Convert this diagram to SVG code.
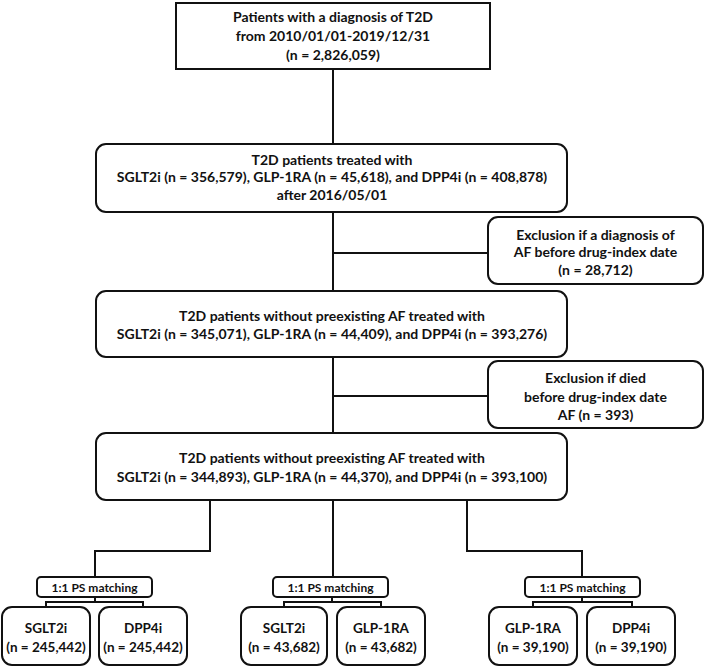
<svg xmlns="http://www.w3.org/2000/svg" width="708" height="668" viewBox="0 0 708 668">
<style>
.box{fill:#fff;stroke:#111;stroke-width:2}
.t{font-family:Lato,"Open Sans","Liberation Sans",sans-serif;font-weight:bold;font-size:14px;fill:#111;text-anchor:middle}
.s{font-size:12px}
.m{font-size:13.5px}
.c{fill:none;stroke:#111;stroke-width:2}
</style>
<rect width="708" height="668" fill="#fff"/>
<g id="connectors">
<path class="c" d="M333 69V144M333 212V290M333 253H488M333 358V433M333 396H488"/>
<path class="c" d="M210 500V551H95V577M333 500V577M467 500V551H582V577"/>
<path class="c" d="M95 597V602M46 607V602H143V607M332 597V602M284 607V602H381V607M582 597V602M533 607V602H632V607"/>
</g>
<g id="n1">
<rect class="box" x="176" y="3" width="314" height="66"/>
<text class="t" x="333" y="22">Patients with a diagnosis of T2D</text>
<text class="t" x="333" y="41">from 2010/01/01-2019/12/31</text>
<text class="t" x="333" y="60">(n = 2,826,059)</text>
</g>
<g id="n2">
<rect class="box" x="96" y="144" width="471" height="68" rx="10"/>
<text class="t" x="332" y="165">T2D patients treated with</text>
<text class="t" x="332" y="182">SGLT2i (n = 356,579), GLP-1RA (n = 45,618), and DPP4i (n = 408,878)</text>
<text class="t" x="332" y="200">after 2016/05/01</text>
</g>
<g id="ex1">
<rect class="box" x="488" y="217" width="215" height="67" rx="10"/>
<text class="t" x="595.5" y="240">Exclusion if a diagnosis of</text>
<text class="t" x="595.5" y="257">AF before drug-index date</text>
<text class="t" x="595.5" y="275">(n = 28,712)</text>
</g>
<g id="n3">
<rect class="box" x="96" y="291" width="471" height="66" rx="10"/>
<text class="t" x="332" y="321">T2D patients without preexisting AF treated with</text>
<text class="t" x="332" y="339">SGLT2i (n = 345,071), GLP-1RA (n = 44,409), and DPP4i (n = 393,276)</text>
</g>
<g id="ex2">
<rect class="box" x="488" y="361" width="215" height="67" rx="10"/>
<text class="t" x="595.5" y="383">Exclusion if died</text>
<text class="t" x="595.5" y="402">before drug-index date</text>
<text class="t" x="595.5" y="420">AF (n = 393)</text>
</g>
<g id="n4">
<rect class="box" x="96" y="433" width="471" height="67" rx="10"/>
<text class="t" x="332" y="463">T2D patients without preexisting AF treated with</text>
<text class="t" x="332" y="482">SGLT2i (n = 344,893), GLP-1RA (n = 44,370), and DPP4i (n = 393,100)</text>
</g>
<g id="ps1">
<rect class="box" x="37" y="577" width="115" height="20" rx="4"/>
<text class="t s" x="94.5" y="591.5">1:1 PS matching</text>
</g>
<g id="ps2">
<rect class="box" x="273" y="577" width="115" height="20" rx="4"/>
<text class="t s" x="330.5" y="591.5">1:1 PS matching</text>
</g>
<g id="ps3">
<rect class="box" x="525" y="577" width="115" height="20" rx="4"/>
<text class="t s" x="582.5" y="591.5">1:1 PS matching</text>
</g>
<g id="b1">
<rect class="box" x="2" y="607" width="88" height="58" rx="10"/>
<text class="t m" x="46" y="633">SGLT2i</text>
<text class="t m" x="46" y="652">(n = 245,442)</text>
</g>
<g id="b2">
<rect class="box" x="99" y="607" width="88" height="58" rx="10"/>
<text class="t m" x="143" y="633">DPP4i</text>
<text class="t m" x="143" y="652">(n = 245,442)</text>
</g>
<g id="b3">
<rect class="box" x="241" y="607" width="86" height="58" rx="10"/>
<text class="t m" x="284" y="633">SGLT2i</text>
<text class="t m" x="284" y="652">(n = 43,682)</text>
</g>
<g id="b4">
<rect class="box" x="337" y="607" width="88" height="58" rx="10"/>
<text class="t m" x="381" y="633">GLP-1RA</text>
<text class="t m" x="381" y="652">(n = 43,682)</text>
</g>
<g id="b5">
<rect class="box" x="489" y="607" width="88" height="58" rx="10"/>
<text class="t m" x="533" y="633">GLP-1RA</text>
<text class="t m" x="533" y="652">(n = 39,190)</text>
</g>
<g id="b6">
<rect class="box" x="587" y="607" width="88" height="58" rx="10"/>
<text class="t m" x="631" y="633">DPP4i</text>
<text class="t m" x="631" y="652">(n = 39,190)</text>
</g>
</svg>
